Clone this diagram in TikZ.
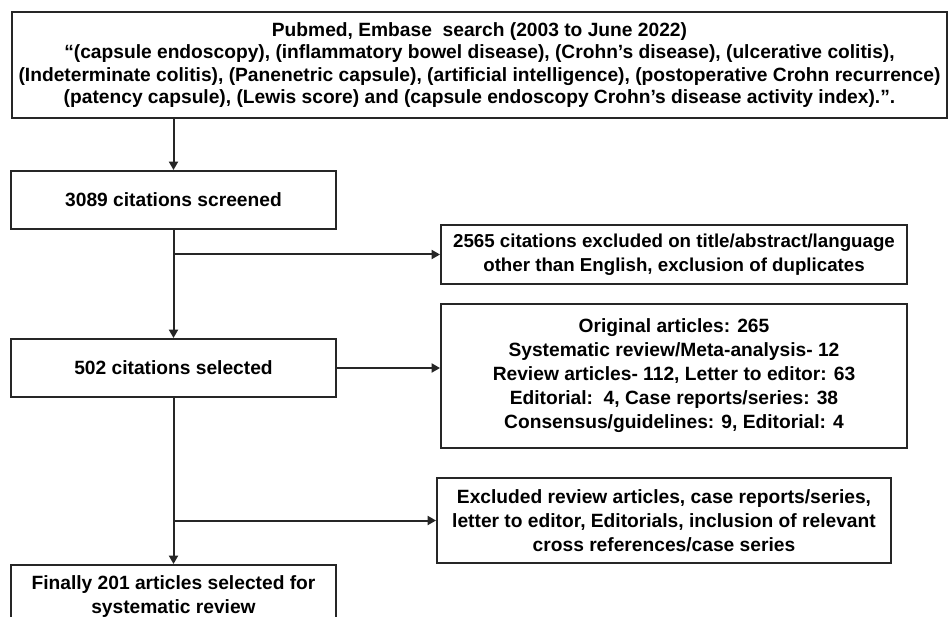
\documentclass[tikz,border=0pt]{standalone}
\usepackage{fontspec}
\setmainfont{Liberation Sans}
\usetikzlibrary{arrows.meta}
\begin{document}
\begin{tikzpicture}[x=1pt,y=-1pt,
  box/.style={draw=black!85, line width=1.9pt, inner sep=0pt, align=center,
    text=black, font=\fontsize{19.2}{24}\selectfont\bfseries},
  conn/.style={line width=2pt, draw=black!85, -{Triangle[length=8.5pt,width=9pt]}}]
\useasboundingbox (0,0) rectangle (949,617);
\clip (0,0) rectangle (949,617);
\fill[white] (0,0) rectangle (949,617);

\node[box, minimum width=935pt, minimum height=106pt,
  font=\fontsize{19.2}{22.5}\selectfont\bfseries] (top) at (479.5,65)
 {Pubmed, Embase\ \ search (2003 to June 2022)\\
  “(capsule endoscopy), (inflammatory bowel disease), (Crohn’s disease), (ulcerative colitis),\\
  (Indeterminate colitis), (Panenetric capsule), (artificial intelligence), (postoperative Crohn recurrence)\\
  (patency capsule), (Lewis score) and (capsule endoscopy Crohn’s disease activity index).”.};

\node[box, minimum width=325pt, minimum height=58pt] (scr) at (173.5,200) {3089 citations screened};
\node[box, minimum width=325pt, minimum height=58pt] (sel) at (173.5,368) {502 citations selected};
\node[box, minimum width=325pt, minimum height=64pt] (fin) at (173.5,597)
 {Finally 201 articles selected for\\ systematic review};

\node[box, minimum width=466pt, minimum height=59pt, font=\fontsize{18.7}{24.5}\selectfont\bfseries] (exc) at (674,254.5)
 {2565 citations excluded on title/abstract/language\\ other than English, exclusion of duplicates};
\node[box, minimum width=466pt, minimum height=144pt] (orig) at (674,376)
 {Original articles: 265\\ Systematic review/Meta-analysis- 12\\ Review articles- 112, Letter to editor: 63\\
  Editorial:\ \ 4, Case reports/series: 38\\ Consensus/guidelines: 9, Editorial: 4};
\node[box, minimum width=454pt, minimum height=85pt] (excl2) at (664,520.5)
 {Excluded review articles, case reports/series,\\ letter to editor, Editorials, inclusion of relevant\\ cross references/case series};

\coordinate (b1) at (scr.south |- exc.west);
\coordinate (b2) at (sel.south |- excl2.west);

\draw[conn] (scr.north |- top.south) -- (scr.north);
\draw[conn] (scr.south) -- (sel.north);
\draw[conn] (b1) -- (exc.west);
\draw[conn] (sel.east) -- (sel.east -| orig.west);
\draw[conn] (sel.south) -- (sel.south |- fin.north);
\draw[conn] (b2) -- (excl2.west);
\end{tikzpicture}
\end{document}
